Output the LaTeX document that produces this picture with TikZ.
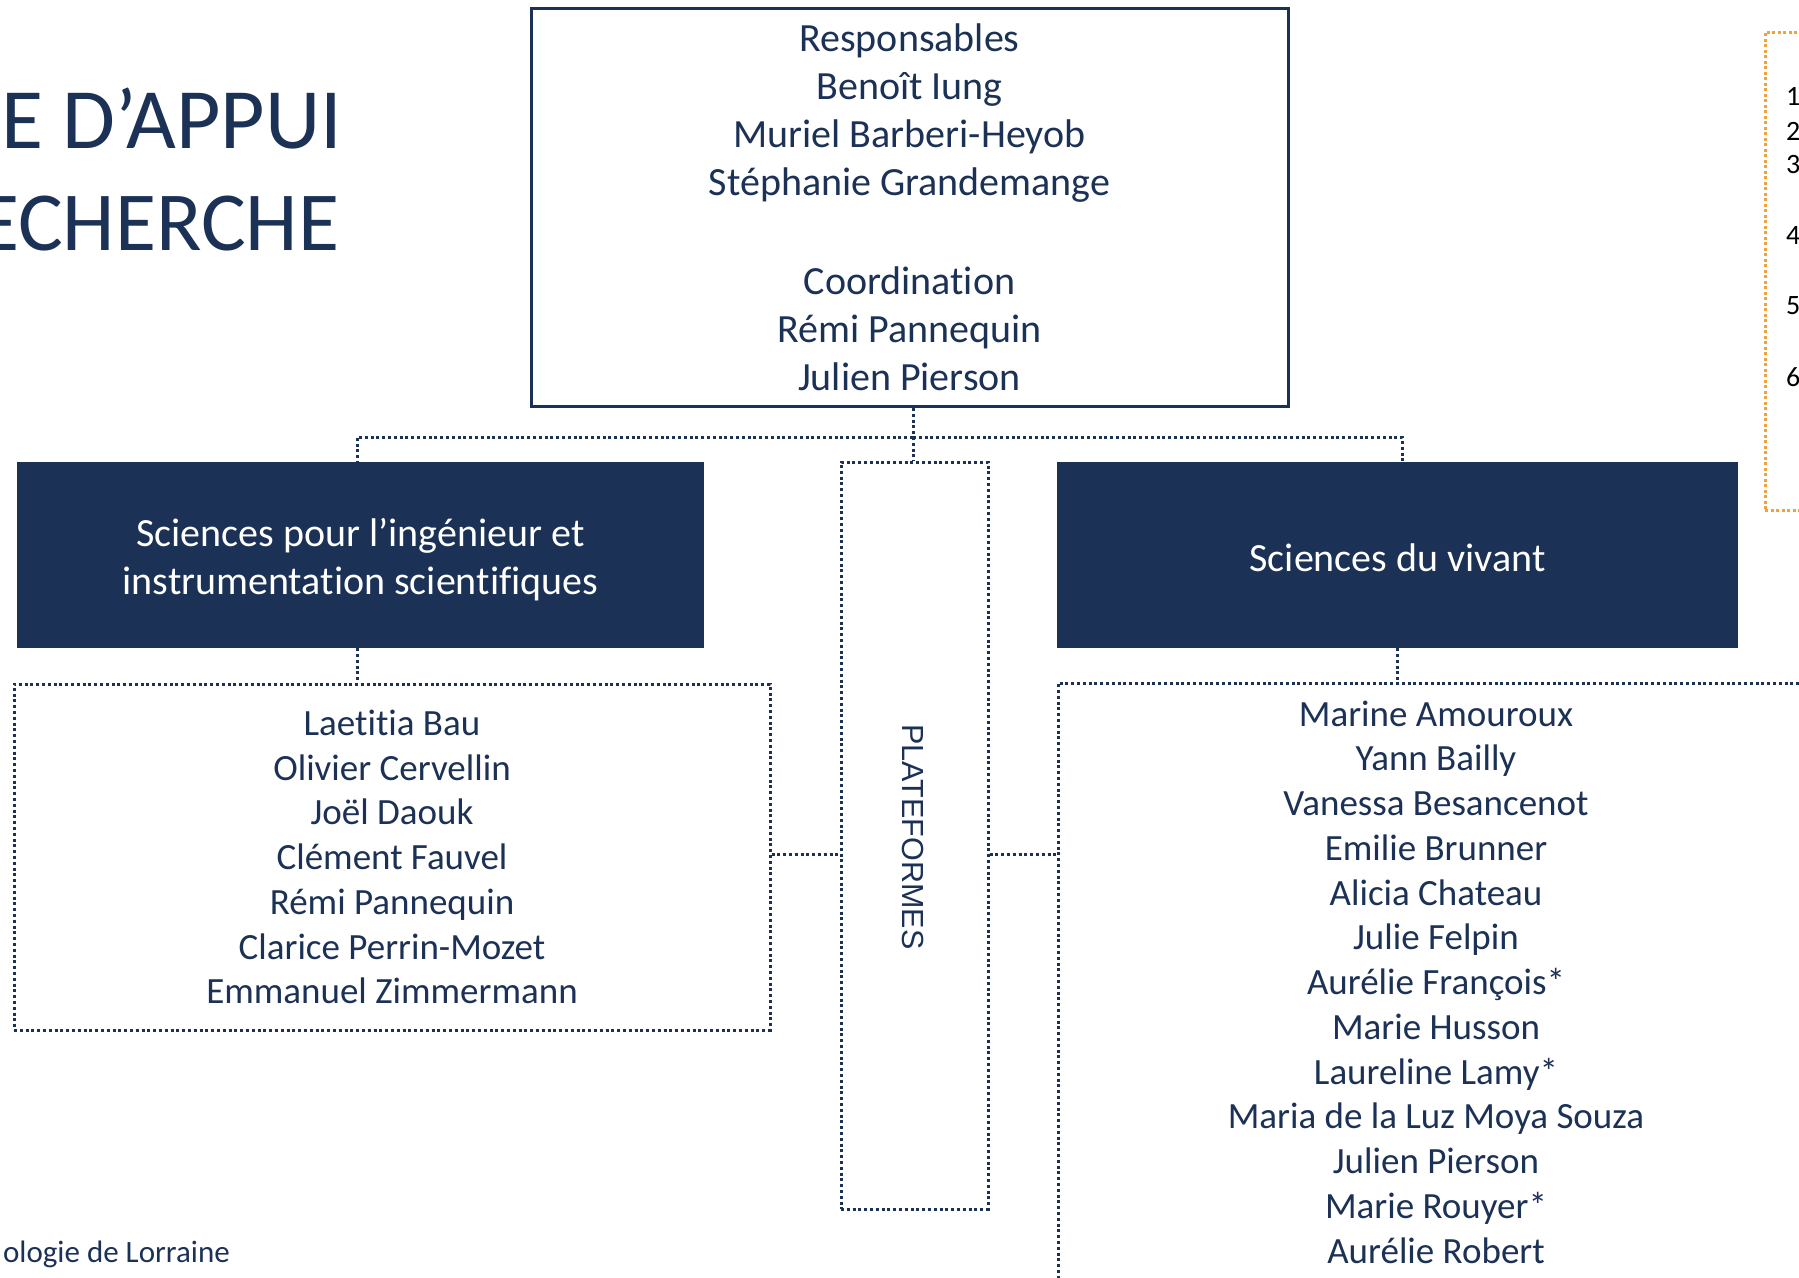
\documentclass[tikz,border=0pt]{standalone}
\usepackage{fontspec}
\setmainfont{Carlito}[Ligatures=NoCommon]
\newfontfamily\arialf{Liberation Sans}
\definecolor{navy}{RGB}{28,49,86}
\definecolor{orng}{RGB}{242,162,60}
\begin{document}
\begin{tikzpicture}[x=1pt,y=-1pt,
  topbox/.style={draw=navy, line width=3pt, fill=white, text=navy, align=center, inner sep=0pt,
    font=\fontsize{40}{48}\selectfont},
  darkbox/.style={fill=navy, inner sep=0pt},
  darktext/.style={text=white, align=center, inner sep=0pt, font=\fontsize{40}{48}\selectfont},
  dotbox/.style={draw=navy, line width=3pt, dash pattern=on 3pt off 2.8pt, text=navy,
    align=center, inner sep=0pt, font=\fontsize{37}{44.75}\selectfont},
  conn/.style={draw=navy, line width=3pt, dash pattern=on 3pt off 2.8pt},
  orangebox/.style={draw=orng, line width=3pt, dash pattern=on 3pt off 2.5pt, inner sep=0pt},
  titletext/.style={text=navy, inner sep=0pt},
  numtext/.style={text=black, inner sep=0pt, anchor=west, font=\fontsize{28}{34}\selectfont}]
\clip (0,0) rectangle (1799,1277);
\fill[white] (0,0) rectangle (1799,1277);

% title
\node[titletext, anchor=base east, font=\fontsize{86}{104}\selectfont] (t1) at (342,148) {E D’APPUI};
\node[titletext, anchor=base east, font=\fontsize{84}{100}\selectfont] (t2) at (339.5,250) {ECHERCHE};
\node[text=navy, inner sep=0pt, anchor=base east, font=\fontsize{31}{37}\selectfont] (foot) at (230,1262) {ologie de Lorraine};

% orange box at right
\node[orangebox, minimum width=140pt, minimum height=478pt] (obox) at (1835,271) {};
\node[numtext] (n1) at (1786,96) {1};
\node[numtext] (n2) at (1786,131) {2};
\node[numtext] (n3) at (1786,165) {3};
\node[numtext] (n4) at (1786,236) {4};
\node[numtext] (n5) at (1786,306) {5};
\node[numtext] (n6) at (1786,377) {6};

% top box
\node[topbox, minimum width=757pt, minimum height=398pt] (top) at (909.5,207.5)
  {Responsables\\Benoît Iung\\Muriel Barberi-Heyob\\Stéphanie Grandemange\\[51pt]Coordination\\Rémi Pannequin\\Julien Pierson};

% dark boxes
\node[darkbox, minimum width=687pt, minimum height=186pt] (sci1) at (360.5,555) {};
\node[darktext] (sci1text) at (360.5,559.5) {Sciences pour l’ingénieur et\\instrumentation scientifiques};
\node[darkbox, minimum width=681pt, minimum height=186pt] (sci2) at (1397.5,555) {};
\node[darktext] (sci2text) at (1397.5,557.5) {Sciences du vivant};

% platforms
\node[dotbox, minimum width=147pt, minimum height=747pt] (plat) at (914.5,835.5) {};
\node[text=navy, inner sep=0pt, rotate=-90, font=\arialf\fontsize{30.5}{36}\selectfont] (platlabel) at (913,837) {PLATEFORMES};

% lists
\node[dotbox, minimum width=756pt, minimum height=346pt] (list1) at (392,857)
  {Laetitia Bau\\Olivier Cervellin\\Joël Daouk\\Clément Fauvel\\Rémi Pannequin\\Clarice Perrin-Mozet\\Emmanuel Zimmermann};
\node[dotbox, minimum width=756pt, minimum height=598pt] (list2) at (1436,982)
  {Marine Amouroux\\Yann Bailly\\Vanessa Besancenot\\Emilie Brunner\\Alicia Chateau\\Julie Felpin\\Aurélie François*\\Marie Husson\\Laureline Lamy*\\Maria de la Luz Moya Souza\\Julien Pierson\\Marie Rouyer*\\Aurélie Robert};

% connectors
\coordinate (hub) at (913,437);
\draw[conn] (top.south -| hub) -- (hub);
\draw[conn] (hub) -| (357,462) coordinate (l1);
\draw[conn] (hub) -| (1402,462) coordinate (r1);
\draw[conn] (hub) -- (plat.north -| hub);
\draw[conn] (sci1.south -| l1) -- (list1.north -| l1);
\draw[conn] (sci2.south) -- (list2.north -| sci2.south);
\draw[conn] (list1.east |- 854,854) -- (plat.west |- 854,854);
\draw[conn] (plat.east |- 854,854) -- (list2.west |- 854,854);
\end{tikzpicture}
\end{document}
